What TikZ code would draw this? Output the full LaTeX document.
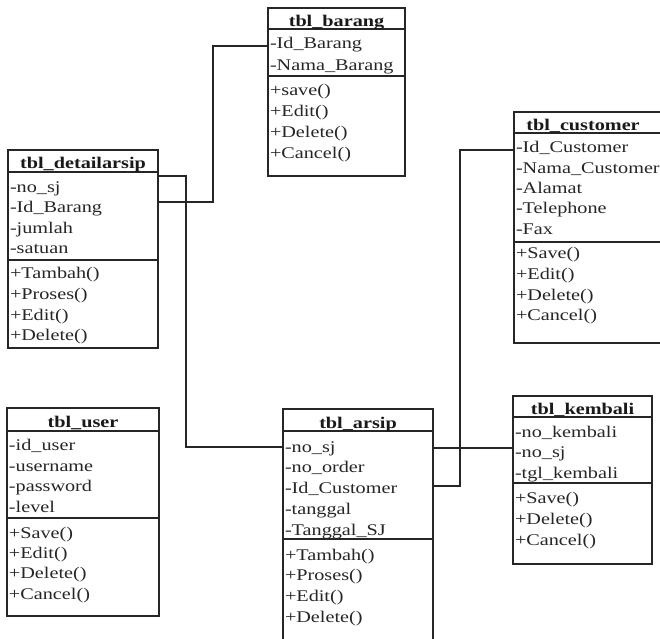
\documentclass[tikz,border=0pt]{standalone}
\usepackage{fontspec}
\setmainfont{Liberation Serif}[FakeStretch=1.24]
\begin{document}
\begin{tikzpicture}[x=1pt,y=-1pt,
  line width=1pt,
  box/.style={draw=black!85, line width=1.1pt, rectangle, inner sep=0pt, outer sep=0pt, anchor=north west},
  sepline/.style={draw=black!85, line width=1.1pt},
  ttl/.style={font=\fontsize{16.3}{19}\selectfont\bfseries, text=black!90, anchor=base, inner sep=0pt},
  row/.style={font=\fontsize{16.3}{19}\selectfont, text=black!85, anchor=base west, inner sep=0pt},
  link/.style={draw=black!85, line width=1.1pt}]
\clip (0,0) rectangle (660,638);
\fill[white] (0,0) rectangle (660,638);

% rows of a class: prefix, left x, list of text/centre-y
\newcommand\umlrows[3]{%
  \foreach \t/\yy [count=\i] in {#3} {\node[row] (#1-\i) at (#2,\yy+5.5) {\t};}}

% ---- tbl_barang
\node[box, minimum width=137pt, minimum height=168pt] (barang) at (268,8) {};
\draw[sepline] (268,29) -- (405,29);
\draw[sepline] (268,76) -- (405,76);
\node[ttl] (barang-t) at (336.5,26) {tbl\_barang};
\umlrows{barang-a}{269.5}{-Id\_Barang/43,-Nama\_Barang/65}
\umlrows{barang-m}{269.5}{+save()/90,+Edit()/111,+Delete()/132,+Cancel()/153}

% ---- tbl_detailarsip
\node[box, minimum width=150pt, minimum height=198pt] (detail) at (8,150) {};
\draw[sepline] (8,172) -- (158,172);
\draw[sepline] (8,260) -- (158,260);
\node[ttl] (detail-t) at (83,168) {tbl\_detailarsip};
\umlrows{detail-a}{9.5}{-no\_sj/187,-Id\_Barang/207,-jumlah/228,-satuan/248}
\umlrows{detail-m}{9.5}{+Tambah()/273,+Proses()/294,+Edit()/315,+Delete()/335}

% ---- tbl_customer (runs past the right edge)
\node[box, minimum width=170pt, minimum height=231pt] (customer) at (514,112) {};
\draw[sepline] (514,133) -- (684,133);
\draw[sepline] (514,242) -- (684,242);
\node[ttl] (customer-t) at (583,130) {tbl\_customer};
\umlrows{customer-a}{515.5}{-Id\_Customer/147,-Nama\_Customer/168,-Alamat/188,-Telephone/208,-Fax/229}
\umlrows{customer-m}{515.5}{+Save()/253,+Edit()/274,+Delete()/295,+Cancel()/315}

% ---- tbl_user
\node[box, minimum width=152pt, minimum height=208pt] (user) at (7,408) {};
\draw[sepline] (7,431) -- (159,431);
\draw[sepline] (7,518) -- (159,518);
\node[ttl] (user-t) at (83,427) {tbl\_user};
\umlrows{user-a}{8.5}{-id\_user/445,-username/466,-password/486,-level/507}
\umlrows{user-m}{8.5}{+Save()/533,+Edit()/553,+Delete()/573,+Cancel()/594}

% ---- tbl_arsip (runs past the bottom edge)
\node[box, minimum width=150pt, minimum height=250pt] (arsip) at (283,409) {};
\draw[sepline] (283,431) -- (433,431);
\draw[sepline] (283,539) -- (433,539);
\node[ttl] (arsip-t) at (358,428) {tbl\_arsip};
\umlrows{arsip-a}{284.5}{-no\_sj/447,-no\_order/467,-Id\_Customer/488,-tanggal/509,-Tanggal\_SJ/530}
\umlrows{arsip-m}{284.5}{+Tambah()/555,+Proses()/575,+Edit()/596,+Delete()/617}

% ---- tbl_kembali
\node[box, minimum width=139pt, minimum height=168pt] (kembali) at (513,396) {};
\draw[sepline] (513,417) -- (652,417);
\draw[sepline] (513,483) -- (652,483);
\node[ttl] (kembali-t) at (582.5,414) {tbl\_kembali};
\umlrows{kembali-a}{514.5}{-no\_kembali/432,-no\_sj/452,-tgl\_kembali/473}
\umlrows{kembali-m}{514.5}{+Save()/498,+Delete()/519,+Cancel()/540}

% ---- relations
\draw[link] (barang.west |- 0,46) -| (213,120) |- (detail.east |- 0,202);
\draw[link] (detail.east |- 0,176) -| (186,300) |- (arsip.west |- 0,447);
\draw[link] (customer.west |- 0,150) -| (460,300) |- (arsip.east |- 0,486);
\draw[link] (arsip.east |- 0,448) -- (kembali.west |- 0,448);
\end{tikzpicture}
\end{document}
